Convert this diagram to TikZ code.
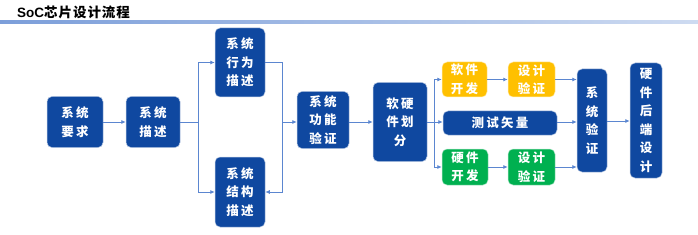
\documentclass[tikz,border=0pt]{standalone}
\usepackage{fontspec}
\setmainfont{Liberation Sans}
\newfontfamily\cjk[LetterSpace=18]{Noto Sans CJK SC}
\newfontfamily\cjktitle[LetterSpace=7]{Noto Sans CJK SC}
\usetikzlibrary{arrows.meta}
\definecolor{dblue}{HTML}{0F48A0}
\definecolor{orng}{HTML}{FFC000}
\definecolor{grn}{HTML}{00B050}
\definecolor{arrc}{HTML}{5B86D0}
\tikzset{
  box/.style={rounded corners=5pt, draw=white!70!dblue, line width=0.5pt, fill=dblue, text=white,
    font=\cjk\bfseries\fontsize{12.5}{18.5}\selectfont, align=center, inner sep=0pt},
  obox/.style={box, fill=orng, draw=white!70!orng},
  gbox/.style={box, fill=grn, draw=white!70!grn},
  arr/.style={draw=arrc, line width=0.8pt, -{Latex[length=4.5pt,width=4pt]}},
  ln/.style={draw=arrc, line width=0.8pt}
}
\begin{document}
\begin{tikzpicture}[x=1pt,y=-1pt]
\useasboundingbox (0,0) rectangle (698,235);
% title
\node[anchor=west, inner sep=0pt] (title) at (17,12) {\bfseries\fontsize{13.5}{15}\selectfont SoC\cjktitle 芯片设计流程};
\shade[left color=arrc!80, right color=arrc!30] (0,21) rectangle (698,23.5);
% nodes
\node[box, minimum width=56pt, minimum height=51pt] (req) at (75,122) {系统\\要求};
\node[box, minimum width=54pt, minimum height=51pt] (desc) at (153,122) {系统\\描述};
\node[box, minimum width=50pt, minimum height=69pt] (beh) at (240,62.5) {系统\\行为\\描述};
\node[box, minimum width=50pt, minimum height=70pt] (struc) at (240,192) {系统\\结构\\描述};
\node[box, minimum width=52pt, minimum height=57pt] (func) at (323,120) {系统\\功能\\验证};
\node[box, minimum width=54pt, minimum height=79pt] (split) at (400,122) {软硬\\件划\\分};
\node[obox, minimum width=45pt, minimum height=35pt] (swdev) at (464.5,79.5) {软件\\开发};
\node[obox, minimum width=47pt, minimum height=35pt] (swver) at (531.5,79.5) {设计\\验证};
\node[box, minimum width=114pt, minimum height=24pt] (test) at (500,123) {测试矢量};
\node[gbox, minimum width=46pt, minimum height=36pt] (hwdev) at (465,167) {硬件\\开发};
\node[gbox, minimum width=47pt, minimum height=36pt] (hwver) at (531.5,167) {设计\\验证};
\node[box, minimum width=30pt, minimum height=103pt] (sysver) at (592,120.5) {系\\统\\验\\证};
\node[box, minimum width=32pt, minimum height=115pt] (back) at (646,120.5) {硬\\件\\后\\端\\设\\计};
% connectors
\draw[arr] (req.east) -- (desc.west);
\coordinate (j1) at (198,122);
\draw[ln] (desc.east) -- (j1);
\draw[arr] (j1) |- (beh.west);
\draw[arr] (j1) |- (struc.west);
\coordinate (j2) at (282,122);
\draw[ln] (beh.east) -| (j2);
\draw[arr] (j2) |- (struc.east);
\draw[arr] (j2) -- (func.west |- j2);
\draw[arr] (func.east |- j2) -- (split.west |- j2);
\coordinate (j3) at (434,122);
\draw[ln] (split.east |- j3) -- (j3);
\draw[arr] (j3) |- (swdev.west);
\draw[arr] (j3) -- (test.west |- j3);
\draw[arr] (j3) |- (hwdev.west);
\draw[arr] (swdev.east) -- (swver.west);
\draw[arr] (hwdev.east) -- (hwver.west);
\draw[arr] (swver.east) -- (sysver.west |- swver.east);
\draw[arr] (test.east |- j3) -- (sysver.west |- j3);
\draw[arr] (hwver.east) -- (sysver.west |- hwver.east);
\draw[arr] (sysver.east |- 0,121) -- (back.west |- 0,121);
\end{tikzpicture}
\end{document}
